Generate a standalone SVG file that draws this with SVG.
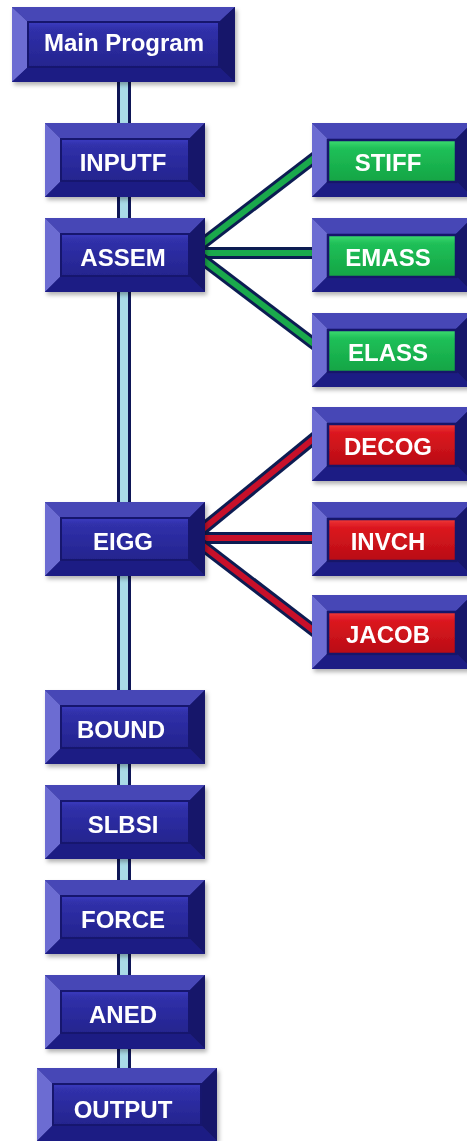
<svg xmlns="http://www.w3.org/2000/svg" xmlns:xlink="http://www.w3.org/1999/xlink" width="467" height="1141" viewBox="0 0 467 1141">
  <defs>
    <style>
      .bev-top { fill: #4646b6; }
      .bev-left { fill: #6c6cd2; }
      .bev-right { fill: #14146a; }
      .bev-bottom { fill: #1e1e84; }
      .face-blue { fill: url(#gBlue); stroke: #18186e; stroke-width: 2; }
      .face-green { fill: url(#gGreen); stroke: #15156a; stroke-width: 2.5; }
      .face-red { fill: url(#gRed); stroke: #15156a; stroke-width: 2.5; }
      .label { font-family: "Liberation Sans", Arial, sans-serif; font-weight: bold; font-size: 24px; fill: #ffffff; text-anchor: middle; }
      .node { filter: url(#shadow); }
      .trunk-out { stroke: #0e1656; stroke-width: 14; fill: none; }
      .trunk-in { stroke: #a9dbe8; stroke-width: 8; fill: none; }
      .link-out { stroke: #0c1c52; stroke-width: 12; fill: none; stroke-linecap: butt; }
      .link-green { stroke: #1aa94c; stroke-width: 6; fill: none; }
      .link-red { stroke: #c8102a; stroke-width: 6; fill: none; }
    </style>
    <linearGradient id="gBlue" x1="0" y1="0" x2="0" y2="1">
      <stop offset="0" stop-color="#3c3cc0"/>
      <stop offset="0.15" stop-color="#3030aa"/>
      <stop offset="1" stop-color="#24248e"/>
    </linearGradient>
    <linearGradient id="gGreen" x1="0" y1="0" x2="0" y2="1">
      <stop offset="0" stop-color="#3ddc72"/>
      <stop offset="0.2" stop-color="#20c058"/>
      <stop offset="1" stop-color="#12a444"/>
    </linearGradient>
    <linearGradient id="gRed" x1="0" y1="0" x2="0" y2="1">
      <stop offset="0" stop-color="#f03a3a"/>
      <stop offset="0.2" stop-color="#dc1820"/>
      <stop offset="1" stop-color="#b80c14"/>
    </linearGradient>
    <filter id="shadow" x="-10%" y="-10%" width="125%" height="135%">
      <feDropShadow dx="2" dy="3" stdDeviation="2" flood-color="#000000" flood-opacity="0.3"/>
    </filter>
    <!-- bevelled frame, 160 x 74 -->
    <g id="frame-std">
      <polygon class="bev-top" points="0,0 160,0 144,16 16,16"/>
      <polygon class="bev-left" points="0,0 16,16 16,58 0,74"/>
      <polygon class="bev-right" points="160,0 160,74 144,58 144,16"/>
      <polygon class="bev-bottom" points="0,74 160,74 144,58 16,58"/>
    </g>
    <!-- bevelled frame, 223 x 75 -->
    <g id="frame-main">
      <polygon class="bev-top" points="0,0 223,0 207,15 16,15"/>
      <polygon class="bev-left" points="0,0 16,15 16,60 0,75"/>
      <polygon class="bev-right" points="223,0 223,75 207,60 207,15"/>
      <polygon class="bev-bottom" points="0,75 223,75 207,60 16,60"/>
    </g>
    <!-- bevelled frame, 180 x 73 -->
    <g id="frame-wide">
      <polygon class="bev-top" points="0,0 180,0 164,16 16,16"/>
      <polygon class="bev-left" points="0,0 16,16 16,57 0,73"/>
      <polygon class="bev-right" points="180,0 180,73 164,57 164,16"/>
      <polygon class="bev-bottom" points="0,73 180,73 164,57 16,57"/>
    </g>
  </defs>

  <rect width="467" height="1141" fill="#ffffff"/>

  <!-- connectors -->
  <g id="connectors">
    <line class="trunk-out" x1="124" y1="78" x2="124" y2="1072"/>
    <line class="trunk-in" x1="124" y1="78" x2="124" y2="1072"/>

    <polyline class="link-out" points="198,247 318,155"/>
    <polyline class="link-green" points="198,247 318,155"/>
    <polyline class="link-out" points="198,253 318,253"/>
    <polyline class="link-green" points="198,253 318,253"/>
    <polyline class="link-out" points="198,256 318,347"/>
    <polyline class="link-green" points="198,256 318,347"/>

    <polyline class="link-out" points="198,533 318,435"/>
    <polyline class="link-red" points="198,533 318,435"/>
    <polyline class="link-out" points="198,538 318,538"/>
    <polyline class="link-red" points="198,538 318,538"/>
    <polyline class="link-out" points="198,542 318,634"/>
    <polyline class="link-red" points="198,542 318,634"/>
  </g>

  <!-- main column -->
  <g id="n-main" class="node" transform="translate(12,7)">
    <rect width="223" height="75" fill="#1b1b7a"/>
    <use href="#frame-main"/>
    <rect class="face-blue" x="16" y="15" width="191" height="45"/>
    <text class="label" x="112" y="44">Main Program</text>
  </g>

  <g id="n-inputf" class="node" transform="translate(45,123)">
    <rect width="160" height="74" fill="#1b1b7a"/>
    <use href="#frame-std"/>
    <rect class="face-blue" x="16" y="16" width="128" height="42"/>
    <text class="label" x="78" y="48">INPUTF</text>
  </g>

  <g id="n-assem" class="node" transform="translate(45,218)">
    <rect width="160" height="74" fill="#1b1b7a"/>
    <use href="#frame-std"/>
    <rect class="face-blue" x="16" y="16" width="128" height="42"/>
    <text class="label" x="78" y="48">ASSEM</text>
  </g>

  <g id="n-eigg" class="node" transform="translate(45,502)">
    <rect width="160" height="74" fill="#1b1b7a"/>
    <use href="#frame-std"/>
    <rect class="face-blue" x="16" y="16" width="128" height="42"/>
    <text class="label" x="78" y="48">EIGG</text>
  </g>

  <g id="n-bound" class="node" transform="translate(45,690)">
    <rect width="160" height="74" fill="#1b1b7a"/>
    <use href="#frame-std"/>
    <rect class="face-blue" x="16" y="16" width="128" height="42"/>
    <text class="label" x="76" y="48">BOUND</text>
  </g>

  <g id="n-slbsi" class="node" transform="translate(45,785)">
    <rect width="160" height="74" fill="#1b1b7a"/>
    <use href="#frame-std"/>
    <rect class="face-blue" x="16" y="16" width="128" height="42"/>
    <text class="label" x="78" y="48">SLBSI</text>
  </g>

  <g id="n-force" class="node" transform="translate(45,880)">
    <rect width="160" height="74" fill="#1b1b7a"/>
    <use href="#frame-std"/>
    <rect class="face-blue" x="16" y="16" width="128" height="42"/>
    <text class="label" x="78" y="48">FORCE</text>
  </g>

  <g id="n-aned" class="node" transform="translate(45,975)">
    <rect width="160" height="74" fill="#1b1b7a"/>
    <use href="#frame-std"/>
    <rect class="face-blue" x="16" y="16" width="128" height="42"/>
    <text class="label" x="78" y="48">ANED</text>
  </g>

  <g id="n-output" class="node" transform="translate(37,1068)">
    <rect width="180" height="73" fill="#1b1b7a"/>
    <use href="#frame-wide"/>
    <rect class="face-blue" x="16" y="16" width="148" height="41"/>
    <text class="label" x="86" y="50">OUTPUT</text>
  </g>

  <!-- ASSEM children -->
  <g id="n-stiff" class="node" transform="translate(312,123)">
    <rect width="160" height="74" fill="#1b1b7a"/>
    <use href="#frame-std"/>
    <rect class="face-green" x="16" y="17" width="128" height="42"/>
    <text class="label" x="76" y="48">STIFF</text>
  </g>

  <g id="n-emass" class="node" transform="translate(312,218)">
    <rect width="160" height="74" fill="#1b1b7a"/>
    <use href="#frame-std"/>
    <rect class="face-green" x="16" y="17" width="128" height="42"/>
    <text class="label" x="76" y="48">EMASS</text>
  </g>

  <g id="n-elass" class="node" transform="translate(312,313)">
    <rect width="160" height="74" fill="#1b1b7a"/>
    <use href="#frame-std"/>
    <rect class="face-green" x="16" y="17" width="128" height="42"/>
    <text class="label" x="76" y="48">ELASS</text>
  </g>

  <!-- EIGG children -->
  <g id="n-decog" class="node" transform="translate(312,407)">
    <rect width="160" height="74" fill="#1b1b7a"/>
    <use href="#frame-std"/>
    <rect class="face-red" x="16" y="17" width="128" height="42"/>
    <text class="label" x="76" y="48">DECOG</text>
  </g>

  <g id="n-invch" class="node" transform="translate(312,502)">
    <rect width="160" height="74" fill="#1b1b7a"/>
    <use href="#frame-std"/>
    <rect class="face-red" x="16" y="17" width="128" height="42"/>
    <text class="label" x="76" y="48">INVCH</text>
  </g>

  <g id="n-jacob" class="node" transform="translate(312,595)">
    <rect width="160" height="74" fill="#1b1b7a"/>
    <use href="#frame-std"/>
    <rect class="face-red" x="16" y="17" width="128" height="42"/>
    <text class="label" x="76" y="48">JACOB</text>
  </g>
</svg>
